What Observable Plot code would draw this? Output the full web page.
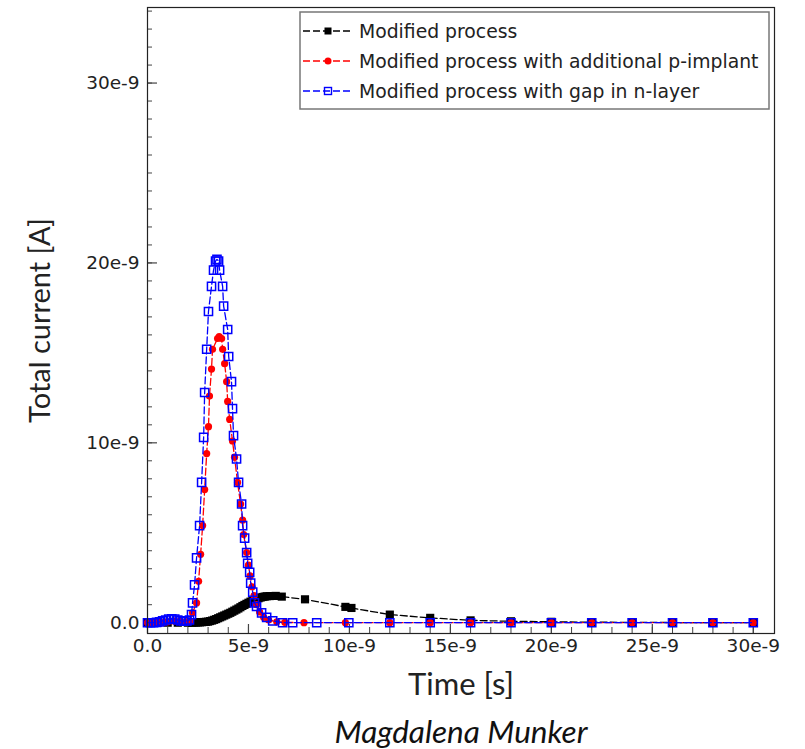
<!DOCTYPE html>
<html>
<head>
<meta charset="utf-8">
<script src="https://cdn.jsdelivr.net/npm/d3@7"></script>
<script src="https://cdn.jsdelivr.net/npm/@observablehq/plot@0.6"></script>
<style>
  html, body { margin: 0; padding: 0; background: #fff; }
  #chart svg { display: block; }
</style>
</head>
<body>
<div id="chart"></div>
<script>
// ---- Data (time in ns, current in units of 1e-9 A) ----
const seriesNames = [
  "Modified process",
  "Modified process with additional p-implant",
  "Modified process with gap in n-layer"
];
const seriesColors = ["#000000", "#ff0000", "#0000ff"];

const blackT = [0, 0.5, 1.0, 1.5, 2.0, 2.2, 2.3, 2.4, 2.5, 2.6, 2.7, 2.8, 2.9, 3.0, 3.1, 3.2, 3.3, 3.4, 3.5, 3.6, 3.7, 3.8, 3.9, 4.0, 4.1, 4.2, 4.3, 4.4, 4.5, 4.6, 4.7, 4.8, 4.9, 5.0, 5.1, 5.2, 5.3, 5.4, 5.5, 5.6, 5.7, 5.8, 5.9, 6.05, 6.35, 6.65, 7.8, 9.8, 10.1, 12.0, 14.0, 16.0, 18.0, 20.0, 22.0, 24.0, 26.0, 28.0, 30.0];
const blackI = [0, 0, 0, 0, 0, 0, 0.01, 0.01, 0.02, 0.02, 0.03, 0.04, 0.05, 0.06, 0.09, 0.12, 0.16, 0.2, 0.25, 0.3, 0.35, 0.4, 0.45, 0.5, 0.55, 0.61, 0.67, 0.73, 0.79, 0.86, 0.93, 0.99, 1.05, 1.11, 1.17, 1.22, 1.27, 1.32, 1.36, 1.4, 1.43, 1.45, 1.47, 1.48, 1.49, 1.45, 1.3, 0.88, 0.82, 0.45, 0.27, 0.13, 0.08, 0.05, 0.03, 0.02, 0.01, 0.01, 0.01];

const redT = [0, 0.15, 0.3, 0.45, 0.6, 0.75, 1.0, 1.3, 1.6, 1.9, 2.1, 2.23, 2.43, 2.53, 2.63, 2.73, 2.83, 2.93, 3.02, 3.07, 3.17, 3.22, 3.47, 3.55, 3.67, 3.72, 3.82, 3.92, 3.97, 4.07, 4.21, 4.31, 4.46, 4.61, 4.71, 4.76, 4.91, 5.0, 5.08, 5.18, 5.28, 5.4, 5.55, 5.75, 6.0, 6.4, 6.8, 7.75, 9.8, 12.0, 14.0, 16.0, 18.0, 20.0, 22.0, 24.0, 26.0, 28.0, 30.0];
const redI = [0, 0, 0, 0, 0, 0, 0.05, 0.1, 0.08, 0.05, 0.1, 0.55, 1.1, 2.3, 3.8, 5.4, 7.4, 9.4, 10.9, 12.6, 14.1, 15.2, 15.8, 15.9, 15.8, 15.2, 14.4, 13.4, 12.3, 11.3, 10.1, 9.2, 7.8, 6.6, 5.7, 4.9, 3.9, 3.2, 2.6, 2.0, 1.5, 1.0, 0.6, 0.3, 0.15, 0.05, 0.02, 0, 0, 0, 0, 0, 0, 0, 0, 0, 0, 0, 0];

const blueT = [0, 0.15, 0.3, 0.45, 0.6, 0.75, 0.9, 1.05, 1.2, 1.35, 1.5, 1.65, 1.8, 1.95, 2.08, 2.18, 2.23, 2.33, 2.43, 2.58, 2.68, 2.78, 2.83, 2.93, 3.02, 3.17, 3.27, 3.37, 3.44, 3.52, 3.57, 3.72, 3.77, 3.97, 4.02, 4.16, 4.21, 4.26, 4.41, 4.51, 4.66, 4.71, 4.81, 4.91, 4.96, 5.06, 5.11, 5.21, 5.3, 5.4, 5.65, 5.9, 6.2, 6.69, 7.19, 8.38, 9.97, 12.0, 14.0, 16.0, 18.0, 20.0, 22.0, 24.0, 26.0, 28.0, 30.0];
const blueI = [0, 0, 0, 0.02, 0.05, 0.1, 0.15, 0.2, 0.22, 0.2, 0.15, 0.1, 0.08, 0.1, 0.15, 0.45, 1.1, 2.1, 3.6, 5.4, 7.8, 10.3, 12.8, 15.2, 17.3, 18.7, 19.6, 20.1, 20.2, 20.1, 19.6, 18.7, 17.6, 16.3, 14.8, 13.4, 11.9, 10.4, 9.1, 7.8, 6.6, 5.4, 4.7, 3.9, 3.3, 2.8, 2.2, 1.7, 1.1, 0.9, 0.55, 0.3, 0.1, 0, 0, 0, 0, 0, 0, 0, 0, 0, 0, 0, 0, 0, 0];

const xMajor = [0, 5, 10, 15, 20, 25, 30];
const xTickLabels = ["0.0", "5e-9", "10e-9", "15e-9", "20e-9", "25e-9", "30e-9"];
const xMinor = d3.range(0, 31, 1);
const yMajor = [0, 10, 20, 30];
const yTickLabels = ["0.0", "10e-9", "20e-9", "30e-9"];
const yMinor = d3.range(0, 35, 1);

const xLabel = "Time [s]";
const yLabel = "Total current [A]";
const caption = "Magdalena Munker";

// ---- Build tables ----
const toRows = (T, I) => T.map((t, i) => ({t, v: I[i]}));
const black = toRows(blackT, blackI);
const red = toRows(redT, redI);
const blue = toRows(blueT, blueI);
const xLab = new Map(xMajor.map((d, i) => [d, xTickLabels[i]]));
const yLab = new Map(yMajor.map((d, i) => [d, yTickLabels[i]]));

const W = 805, H = 749, mL = 147, mR = 31, mT = 7, mB = 116;
const pw = W - mL - mR, ph = H - mT - mB;
const dash = "7,3";
const tickFont = 18.5;

const plot = Plot.plot({
  width: W, height: H,
  marginLeft: mL, marginRight: mR, marginTop: mT, marginBottom: mB,
  x: {domain: [0, 31.05], label: null},
  y: {domain: [-0.6, 34.2], label: null},
  style: {background: "#fff", fontFamily: "'DejaVu Sans', sans-serif", fontSize: "18px", color: "#222"},
  marks: [
    // inward ticks
    Plot.tickY(yMinor, {y: d => d, insetRight: pw - 5, stroke: "#444", strokeWidth: 1}),
    Plot.tickY(yMajor, {y: d => d, insetRight: pw - 10, stroke: "#444", strokeWidth: 1.2}),
    Plot.tickX(xMinor, {x: d => d, insetTop: ph - 6, stroke: "#444", strokeWidth: 1}),
    Plot.tickX(xMajor, {x: d => d, insetTop: ph - 9, stroke: "#444", strokeWidth: 1.2}),
    Plot.axisY(yMajor, {anchor: "left", tickSize: 0, tickPadding: 8, tickFormat: d => yLab.get(d), label: null, fontSize: tickFont, fill: "#222"}),
    Plot.axisX(xMajor, {anchor: "bottom", tickSize: 0, tickPadding: 5, tickFormat: d => xLab.get(d), label: null, fontSize: tickFont, fill: "#222"}),
    // series
    Plot.line(black, {x: "t", y: "v", stroke: seriesColors[0], strokeWidth: 1.3, strokeDasharray: dash}),
    Plot.dot(black, {x: "t", y: "v", symbol: "square", fill: seriesColors[0], r: 4.6}),
    Plot.line(red, {x: "t", y: "v", stroke: seriesColors[1], strokeWidth: 1.3, strokeDasharray: dash}),
    Plot.dot(red, {x: "t", y: "v", symbol: "circle", fill: seriesColors[1], r: 3.6}),
    Plot.line(blue, {x: "t", y: "v", stroke: seriesColors[2], strokeWidth: 1.3, strokeDasharray: dash}),
    Plot.dot(blue, {x: "t", y: "v", symbol: "square", fill: "none", stroke: seriesColors[2], strokeWidth: 1.5, r: 4.6}),
    Plot.frame({stroke: "#222", strokeWidth: 1.2}),
    // titles
    Plot.text([yLabel], {frameAnchor: "left", textAnchor: "middle", dx: -107, rotate: -90, fontSize: 29, fontFamily: "Lato, sans-serif", fill: "#222"}),
    Plot.text([xLabel], {frameAnchor: "bottom", textAnchor: "middle", dy: 61, fontSize: 31, fontFamily: "Lato, sans-serif", fill: "#222"}),
    Plot.text([caption], {frameAnchor: "bottom", textAnchor: "middle", dy: 109, fontSize: 31.5, fontStyle: "italic", fontFamily: "Lato, sans-serif", fill: "#111"})
  ]
});

// ---- Legend ----
const svg = d3.select(plot);
const lg = svg.append("g").attr("font-family", "'DejaVu Sans', sans-serif").attr("font-size", 18.8).attr("text-anchor", "start");
lg.append("rect").attr("x", 300).attr("y", 12).attr("width", 469).attr("height", 97)
  .attr("fill", "#fff").attr("stroke", "#777").attr("stroke-width", 1.5);
seriesNames.forEach((name, i) => {
  const yy = 31 + i * 30;
  lg.append("line").attr("x1", 303).attr("x2", 352).attr("y1", yy).attr("y2", yy)
    .attr("stroke", seriesColors[i]).attr("stroke-width", 1.3).attr("stroke-dasharray", dash);
  if (i === 0) {
    lg.append("rect").attr("x", 324.5).attr("y", yy - 3.5).attr("width", 7).attr("height", 7).attr("fill", seriesColors[i]);
  } else if (i === 1) {
    lg.append("circle").attr("cx", 328).attr("cy", yy).attr("r", 3.5).attr("fill", seriesColors[i]);
  } else {
    lg.append("rect").attr("x", 324.5).attr("y", yy - 3.5).attr("width", 7).attr("height", 7)
      .attr("fill", "none").attr("stroke", seriesColors[i]).attr("stroke-width", 1.4);
  }
  lg.append("text").attr("x", 359).attr("y", yy).attr("dy", "0.35em").attr("fill", "#222").text(name);
});

document.getElementById("chart").appendChild(plot);
</script>
</body>
</html>
